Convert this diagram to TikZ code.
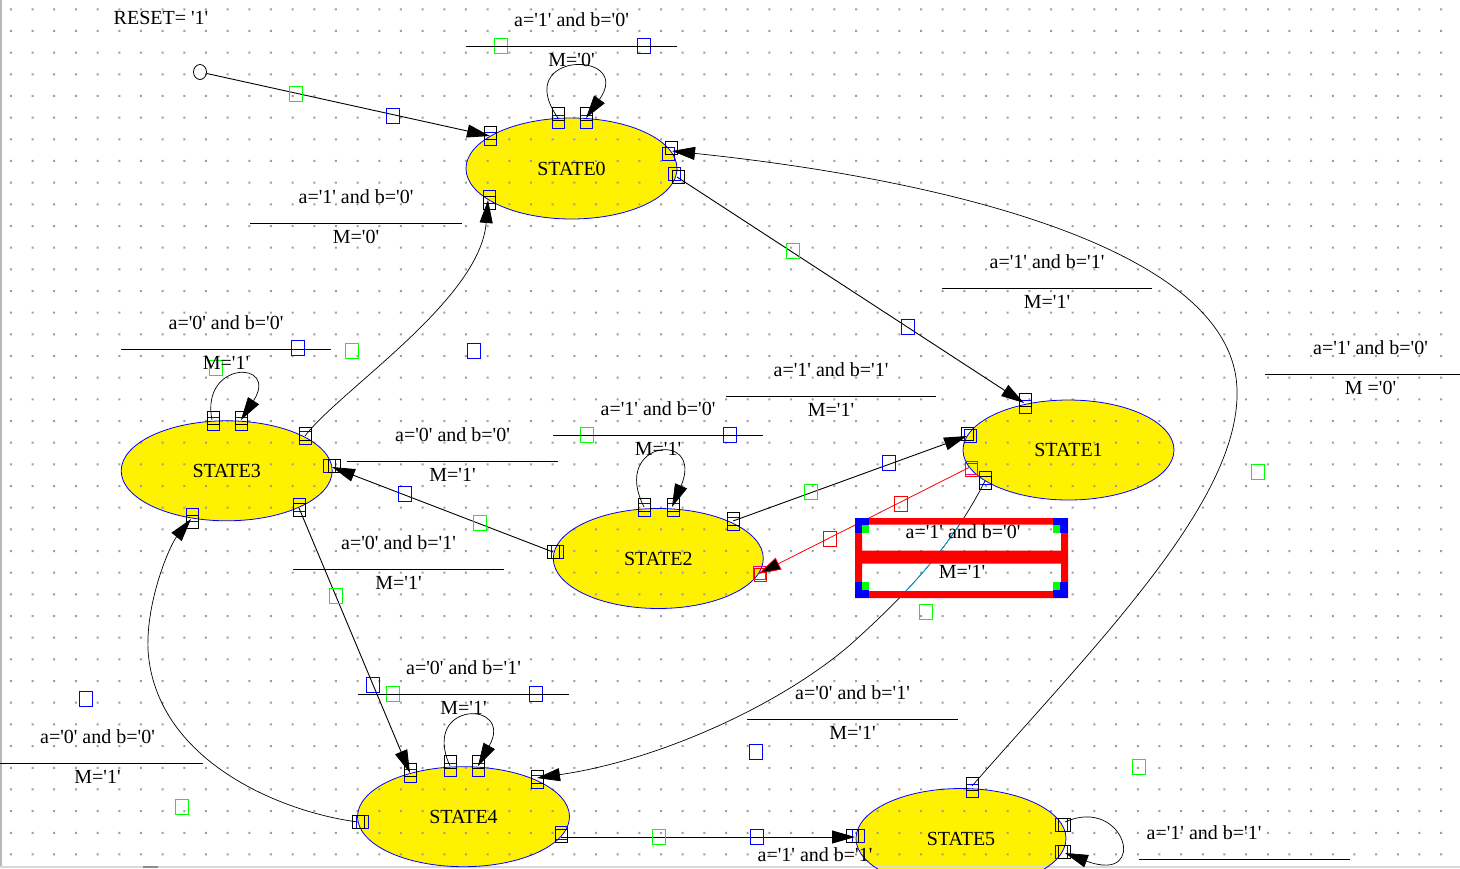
\documentclass[tikz,border=0pt]{standalone}
\usepackage{fontspec}
\setmainfont{Liberation Serif}[Ligatures=TeXOff]
\usetikzlibrary{arrows.meta,shapes.geometric}
\definecolor{dotc}{gray}{0.62}
\definecolor{frameg}{gray}{0.72}
\tikzset{
 fnt/.style={font=\fontsize{20}{24}\selectfont},
 state/.style={ellipse, draw=blue, line width=0.8pt, inner sep=0pt, minimum width=211pt, minimum height=100pt, fnt},
 txt/.style={anchor=base, inner sep=0pt, fnt},
 lbl/.style={line width=1pt},
 tip/.style={-{Triangle[length=23pt,width=13pt]}},
 conn/.style={line width=0.9pt, tip},
 curv/.style={line width=0.7pt, tip},
 sq/.style={line width=1pt},
}
\newcommand\freesq[3]{\draw[sq,#1] (#2,#3) ++(-6.5,-7.5) rectangle ++(13,15);}
\newcommand\epsq[3]{\draw[sq,#1] (#2,#3) ++(-6,-6.5) rectangle ++(12,13);}
\newcommand\trlabel[6]{%
 \draw[lbl] (#1,#3) -- (#2,#3);
 \path ({(#1+#2)/2},#3) ++(0,-20) node[txt] (#6t) {#4};
 \path ({(#1+#2)/2},#3) ++(0,20.5) node[txt] (#6b) {#5};}
\newcommand\pathonefour{(c1o4) .. controls (950,550) and (900,600) .. (850,645) .. controls (780,705) and (660,760) .. (c4i1)}
\begin{document}
\begin{tikzpicture}[x=1pt,y=-1pt]
\useasboundingbox (0,0) rectangle (1460,868);
\clip (0,0) rectangle (1460,868);
\fill[white] (0,0) rectangle (1460,868);
% yellow fills
\fill[yellow] (571.5,168.5) ellipse [x radius=105.5pt,y radius=50.5pt];
\fill[yellow] (1068.5,450) ellipse [x radius=105.5pt,y radius=50pt];
\fill[yellow] (658.3,558.5) ellipse [x radius=105pt,y radius=50pt];
\fill[yellow] (226.7,470.8) ellipse [x radius=105.5pt,y radius=50pt];
\fill[yellow] (463.5,816.7) ellipse [x radius=106pt,y radius=50pt];
\fill[yellow] (961,838.5) ellipse [x radius=105pt,y radius=50pt];
% dot grid
\fill[dotc] \foreach \i in {0,...,67}{\foreach \j in {0,...,39}{(9.9+21.67*\i,8.3+21.67*\j) rectangle ++(2,2)}};
% window frame
\draw[frameg, line width=1.5pt] (0.75,0) -- (0.75,868);
\draw[black!15, line width=2pt] (0,867) -- (1460,867);
\draw[black!45, line width=2pt] (143,867) -- (158,867);
% states
\node[state, minimum height=101pt] (s0) at (571.5,168.5) {STATE0};
\node[state] (s1) at (1068.5,450) {STATE1};
\node[state, minimum width=210pt] (s2) at (658.3,558.5) {STATE2};
\node[state] (s3) at (226.7,470.8) {STATE3};
\node[state, minimum width=212pt] (s4) at (463.5,816.7) {STATE4};
\node[state, minimum width=210pt] (s5) at (961,838.5) {STATE5};
% connection points
\coordinate (c0r) at (490,136);
\coordinate (c0la) at (558,118);
\coordinate (c0lb) at (586,118);
\coordinate (c0i5) at (672,151);
\coordinate (c0o1) at (677,177);
\coordinate (c0i3) at (488,200);
\coordinate (c1i0) at (1024,403);
\coordinate (c1i2) at (967,436);
\coordinate (c1o2) at (970,467);
\coordinate (c1o4) at (985,481);
\coordinate (c2la) at (644,507);
\coordinate (c2lb) at (672,507);
\coordinate (c2o1) at (733,521);
\coordinate (c2o3) at (553,552);
\coordinate (c2i1) at (758,574);
\coordinate (c3la) at (212,420);
\coordinate (c3lb) at (241,420);
\coordinate (c3o0) at (305,436);
\coordinate (c3i2) at (332,467);
\coordinate (c3o4) at (299,508);
\coordinate (c3i4) at (191,519);
\coordinate (c4i3) at (410,773);
\coordinate (c4la) at (450,766);
\coordinate (c4lb) at (478,766);
\coordinate (c4i1) at (537,778);
\coordinate (c4o3) at (358,822);
\coordinate (c4o5) at (561,837);
\coordinate (c5i4) at (855,837);
\coordinate (c5o0) at (972,786);
\coordinate (c5la) at (1065,822);
\coordinate (c5lb) at (1065,853);
% endpoint squares
\epsq{blue}{490}{139} \epsq{black}{490}{133}
\epsq{blue}{558}{122} \epsq{black}{558}{114}
\epsq{blue}{586}{122} \epsq{black}{586}{114}
\epsq{blue}{668}{154} \epsq{black}{671}{148}
\epsq{blue}{674}{174} \epsq{black}{678}{177}
\epsq{blue}{489}{197} \epsq{black}{489}{203}
\epsq{blue}{1025}{407} \epsq{black}{1025}{400}
\epsq{blue}{970}{436} \epsq{black}{967}{434}
\epsq{red}{971}{470} \epsq{magenta}{971}{468}
\epsq{blue}{985}{478} \epsq{black}{985}{483}
\epsq{blue}{644}{510} \epsq{black}{644}{505}
\epsq{blue}{673}{510} \epsq{black}{673}{505}
\epsq{blue}{733}{524} \epsq{black}{733}{519}
\epsq{blue}{557}{552} \epsq{black}{553}{552}
\epsq{red}{760}{575} \epsq{magenta}{759}{573}
\epsq{blue}{213}{424} \epsq{black}{213}{418}
\epsq{blue}{241}{424} \epsq{black}{241}{418}
\epsq{blue}{305}{438} \epsq{black}{305}{434}
\epsq{blue}{329}{466} \epsq{black}{334}{466}
\epsq{blue}{299}{505} \epsq{black}{299}{510}
\epsq{blue}{192}{515} \epsq{black}{192}{522}
\epsq{blue}{410}{776} \epsq{black}{410}{770}
\epsq{blue}{450}{770} \epsq{black}{450}{762}
\epsq{blue}{478}{770} \epsq{black}{478}{762}
\epsq{blue}{537}{782} \epsq{black}{537}{777}
\epsq{blue}{362}{822} \epsq{black}{358}{822}
\epsq{blue}{561}{833} \epsq{black}{561}{836}
\epsq{blue}{972}{791} \epsq{black}{972}{784}
\epsq{blue}{858}{836} \epsq{black}{852}{836}
\epsq{blue}{1061}{825} \epsq{black}{1064}{825}
\epsq{blue}{1061}{852} \epsq{black}{1064}{852}
% reset
\node[draw, ellipse, line width=0.8pt, minimum width=13pt, minimum height=15pt, inner sep=0pt] (rst) at (200,72) {};
\draw[conn] (rst) -- (c0r);
% connectors
\draw[curv] (c0la) .. controls (510,50) and (635,50) .. (c0lb);
\draw[conn] (c0o1) -- (c1i0);
\draw[curv] (c3o0) .. controls (340,390) and (480,300) .. (c0i3);
\draw[curv] (c5o0) .. controls (1100,640) and (1240,500) .. (1237,390) .. controls (1234,250) and (950,180) .. (c0i5);
\draw[conn] (c2o1) -- (c1i2);
\draw[conn] (c2o3) -- (c3i2);
\draw[curv] (c2la) .. controls (610,440) and (705,430) .. (c2lb);
\draw[curv] (c3la) .. controls (200,360) and (280,360) .. (c3lb);
\draw[conn] (c3o4) -- (c4i3);
\draw[curv] (c4la) .. controls (420,700) and (515,700) .. (c4lb);
\draw[curv] (c4o3) .. controls (280,812) and (155,760) .. (148,650) .. controls (146,600) and (170,545) .. (c3i4);
\draw[conn] (c4o5) -- (c5i4);
\draw[curv] (c5la) .. controls (1125,795) and (1150,885) .. (c5lb);
\draw[curv] \pathonefour;
\draw[red, line width=0.8pt, -{Triangle[length=23pt,width=13pt,fill=black]}] (c1o2) -- (c2i1);
% free squares
\freesq{green}{296}{94} \freesq{blue}{393}{116}
\freesq{green}{501}{46} \freesq{blue}{644}{46}
\freesq{green}{793}{251} \freesq{blue}{908}{327}
\freesq{blue}{298}{348} \freesq{green}{352}{351} \freesq{blue}{474}{351}
\freesq{green}{216}{368}
\freesq{green}{587}{435} \freesq{blue}{730}{435}
\freesq{green}{811}{492} \freesq{blue}{889}{463}
\freesq{blue}{405}{494} \freesq{green}{479.5}{523}
\freesq{green}{336}{596} \freesq{blue}{372.5}{684.5}
\freesq{green}{393}{694} \freesq{blue}{536}{693.5}
\freesq{green}{926}{611.5} \freesq{green}{1258}{471.5}
\freesq{green}{1138.5}{767} \freesq{blue}{756}{751.5}
\freesq{blue}{86}{699.3} \freesq{green}{182}{807}
\freesq{green}{659}{836.5} \freesq{blue}{756.7}{836.5}
\freesq{red}{901}{504} \freesq{red}{830}{539}
% selected label box
\fill[red, even odd rule] (855,518) rectangle (1068,598) (862,524.5) rectangle (1061,550.5) (862,563.5) rectangle (1061,591);
\begin{scope}
\clip (862,524.5) rectangle (1061,550.5) (862,563.5) rectangle (1061,591);
\draw[cyan, line width=0.7pt] \pathonefour;
\end{scope}
\fill[blue] (855,518) rectangle (869,533); \fill[green] (862,525) rectangle (869,533);
\fill[blue] (1053,518) rectangle (1068,533); \fill[green] (1053,525) rectangle (1060,533);
\fill[blue] (855,582) rectangle (869,598); \fill[green] (862,582) rectangle (869,590);
\fill[blue] (1053,582) rectangle (1068,598); \fill[green] (1053,582) rectangle (1060,590);
\node[txt] (bx1) at (963,538) {a='1' and b='0'};
\node[txt] (bx2) at (962,578) {M='1'};
% labels
\node[txt] (rs) at (161,24) {RESET= '1'};
\trlabel{466}{677}{46}{a='1' and b='0'}{M='0'}{l1}
\trlabel{250}{462}{223}{a='1' and b='0'}{M='0'}{l2}
\trlabel{942}{1152}{288}{a='1' and b='1'}{M='1'}{l3}
\trlabel{1265}{1476}{374}{a='1' and b='0'}{M ='0'}{l4}
\trlabel{121}{331}{349}{a='0' and b='0'}{M='1'}{l5}
\trlabel{347}{558}{461}{a='0' and b='0'}{M='1'}{l6}
\trlabel{726}{936}{396}{a='1' and b='1'}{M='1'}{l7}
\trlabel{553}{763}{435}{a='1' and b='0'}{M='1'}{l8}
\trlabel{293}{504}{569}{a='0' and b='1'}{M='1'}{l9}
\trlabel{358}{569}{694}{a='0' and b='1'}{M='1'}{l10}
\trlabel{747}{958}{719}{a='0' and b='1'}{M='1'}{l11}
\trlabel{-8}{203}{763}{a='0' and b='0'}{M='1'}{l12}
\draw[lbl] (1138.7,859) -- (1349.5,859);
\node[txt] (l13t) at (1204,839.5) {a='1' and b='1'};
\node[txt] (l14t) at (815,861) {a='1' and b='1'};
\end{tikzpicture}
\end{document}
